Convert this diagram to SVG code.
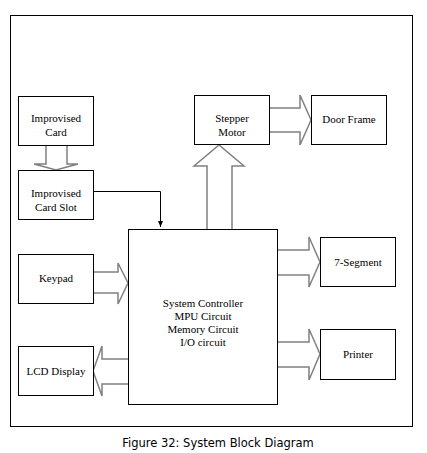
<svg xmlns="http://www.w3.org/2000/svg" width="427" height="453" viewBox="0 0 427 453">
<defs>
<style>
.box{fill:#fff;stroke:#000;stroke-width:1}
.t{font-family:"Liberation Serif","Times New Roman",serif;font-size:11px;fill:#000;text-anchor:middle}
.fat{fill:#fff;stroke:#808080;stroke-width:1.5;stroke-linejoin:miter}
.ln{fill:none;stroke:#000;stroke-width:1}
</style>
<marker id="ah" markerWidth="8" markerHeight="8" refX="6" refY="3.5" orient="auto" markerUnits="userSpaceOnUse">
<path d="M0,1 L6,3.5 L0,6 Z" fill="#000"/>
</marker>
</defs>
<rect x="0" y="0" width="427" height="453" fill="#fff"/>
<rect x="10.5" y="15.5" width="402" height="411" fill="none" stroke="#000" stroke-width="1"/>

<g id="connectors">
<path class="fat" d="M46,145 L46,164 L34,164 L56,170 L78,164 L67,164 L67,145"/>
<path class="fat" d="M269,108 L300,108 L300,95 L311,120 L300,145 L300,132 L269,132"/>
<path class="fat" d="M207,229 L207,166 L194,166 L219,145 L244,166 L232,166 L232,229"/>
<path class="fat" d="M93,272 L118,272 L118,263 L128,283 L118,304 L118,293 L93,293"/>
<path class="fat" d="M128,359 L102,359 L102,346 L93,371 L102,396 L102,384 L128,384"/>
<path class="fat" d="M278,250 L309,250 L309,237 L320,262 L309,287 L309,275 L278,275"/>
<path class="fat" d="M278,342 L309,342 L309,329 L320,354 L309,380 L309,367 L278,367"/>
<path class="ln" d="M93,191.5 L160.5,191.5 L160.5,227" marker-end="url(#ah)"/>
</g>

<g id="improvised-card">
<rect class="box" x="18.5" y="96.5" width="75" height="49"/>
<text class="t" x="56" y="121.5">Improvised</text>
<text class="t" x="56" y="135.5">Card</text>
</g>
<g id="card-slot">
<rect class="box" x="18.5" y="170.5" width="75" height="49"/>
<text class="t" x="56" y="197">Improvised</text>
<text class="t" x="56" y="211">Card Slot</text>
</g>
<g id="stepper-motor">
<rect class="box" x="194.5" y="95.5" width="75" height="49"/>
<text class="t" x="232" y="121.5">Stepper</text>
<text class="t" x="232" y="135.5">Motor</text>
</g>
<g id="door-frame">
<rect class="box" x="311.5" y="95.5" width="75" height="49"/>
<text class="t" x="349" y="123">Door Frame</text>
</g>
<g id="keypad">
<rect class="box" x="18.5" y="254.5" width="75" height="49"/>
<text class="t" x="56" y="282">Keypad</text>
</g>
<g id="lcd-display">
<rect class="box" x="18.5" y="346.5" width="75" height="49"/>
<text class="t" x="56" y="374.5">LCD Display</text>
</g>
<g id="controller">
<rect class="box" x="128.5" y="229.5" width="149" height="175"/>
<text class="t" x="203" y="306.5">System Controller</text>
<text class="t" x="203" y="319.5">MPU Circuit</text>
<text class="t" x="203" y="332.5">Memory Circuit</text>
<text class="t" x="203" y="345.5">I/O circuit</text>
</g>
<g id="seven-segment">
<rect class="box" x="320.5" y="237.5" width="75" height="49"/>
<text class="t" x="358" y="265.5">7-Segment</text>
</g>
<g id="printer">
<rect class="box" x="320.5" y="329.5" width="75" height="50"/>
<text class="t" x="358" y="357.5">Printer</text>
</g>
<text x="218" y="447" font-family="DejaVu Sans, Verdana, sans-serif" font-size="11.5" fill="#000" text-anchor="middle">Figure 32: System Block Diagram</text>
</svg>
